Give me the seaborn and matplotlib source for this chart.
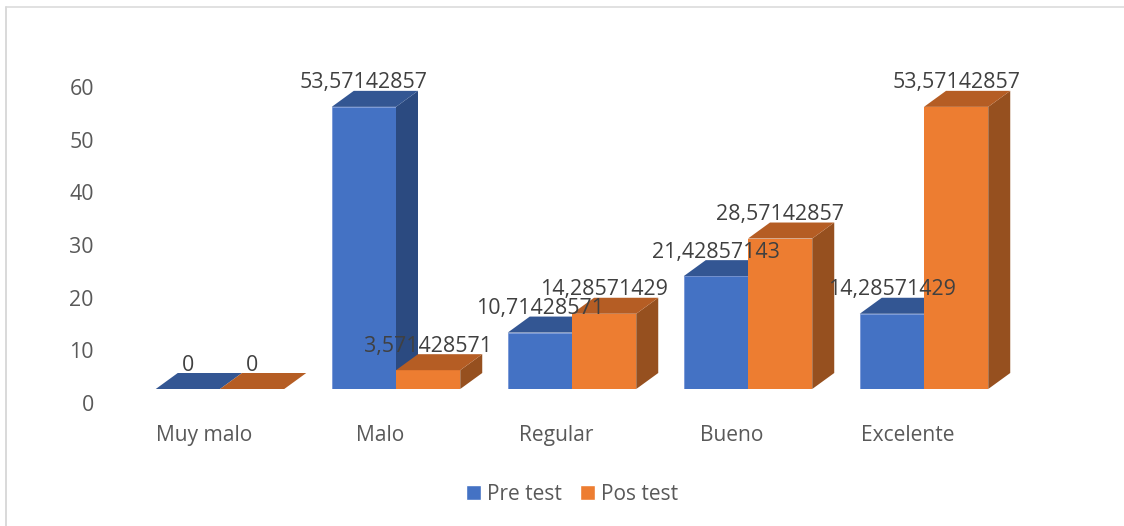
import matplotlib
matplotlib.use("Agg")
import matplotlib.pyplot as plt
import matplotlib.transforms as mtrans
from matplotlib.lines import Line2D
from matplotlib.patches import Polygon
import pandas as pd
import seaborn as sns

categories = ["Muy malo", "Malo", "Regular", "Bueno", "Excelente"]
pre_test = [0, 53.57142857, 10.71428571, 21.42857143, 14.28571429]
pos_test = [0, 3.571428571, 14.28571429, 28.57142857, 53.57142857]
series_names = ["Pre test", "Pos test"]
y_ticks = [0, 10, 20, 30, 40, 50, 60]

front_colors = ["#4472C4", "#ED7D31"]
top_colors = ["#335693", "#B55D24"]
side_colors = ["#2B4A80", "#96501F"]

W, H = 1124, 526
sns.set_style("white")
plt.rcParams["font.family"] = ["Open Sans", "DejaVu Sans"]

df = pd.DataFrame({"cat": categories * 2,
                   "value": pre_test + pos_test,
                   "serie": [series_names[0]] * 5 + [series_names[1]] * 5})

fig = plt.figure(figsize=(W / 100, H / 100), dpi=100)
ax = fig.add_axes([132 / W, (H - 389) / H, 880 / W, 316 / H])

sns.barplot(data=df, x="cat", y="value", hue="serie", order=categories,
            hue_order=series_names, palette=front_colors, saturation=1,
            width=0.73, gap=0, errorbar=None, ax=ax)
ax.set_xlim(-0.5, 4.5)
ax.set_ylim(0, 60)

# fake 3d depth, measured in pixels and turned into data units
depth_x = 22 / (880 / 5)
depth_y = 16 / (316 / 60)

for i, container in enumerate(ax.containers):
    values = [pre_test, pos_test][i]
    for bar, v in zip(container, values):
        x0, w, h = bar.get_x(), bar.get_width(), bar.get_height()
        x1 = x0 + w
        bar.set_zorder(2 + i)
        bar.set_linewidth(0.7 if (i == 0 and h > 0) else 0)
        bar.set_edgecolor("#7C9BD8")
        top = [(x0, h), (x1, h), (x1 + depth_x, h + depth_y), (x0 + depth_x, h + depth_y)]
        side = [(x1, 0), (x1 + depth_x, depth_y), (x1 + depth_x, h + depth_y), (x1, h)]
        ax.add_patch(Polygon(side, closed=True, fc=side_colors[i], lw=0, zorder=2.2 + i, clip_on=False))
        ax.add_patch(Polygon(top, closed=True, fc=top_colors[i], lw=0, zorder=2.4 + i, clip_on=False))
        ax.annotate(f"{v:.10g}".replace(".", ","), (x0 + w / 2, h), xytext=(0, 17.2),
                    textcoords="offset points", ha="center", va="center",
                    fontsize=15.4, color="#404040", zorder=6, annotation_clip=False)

sns.despine(ax=ax, left=True, bottom=True)
ax.set_xlabel("")
ax.set_ylabel("")
ax.set_yticks(y_ticks)
ax.tick_params(axis="y", length=0, pad=27.5, labelsize=15.4, labelcolor="#595959")
ax.tick_params(axis="x", length=0, pad=26, labelsize=15.1, labelcolor="#595959")

# axis labels sit apart from the front plane of the bars
for label in ax.get_yticklabels():
    label.set_transform(label.get_transform() + mtrans.ScaledTranslation(0, -14 / 100, fig.dpi_scale_trans))
for label in ax.get_xticklabels():
    label.set_transform(label.get_transform() + mtrans.ScaledTranslation(-16 / 100, 0, fig.dpi_scale_trans))

sns.move_legend(ax, "center", bbox_to_anchor=(572 / W, (H - 494) / H),
                bbox_transform=fig.transFigure, ncol=2, title=None, frameon=False,
                fontsize=15, labelcolor="#595959", handlelength=0.72, handleheight=0.72,
                handletextpad=0.3, columnspacing=0.85, borderpad=0, borderaxespad=0)

# chart frame is cut off by the crop: only top and left edges show
fig.add_artist(Line2D([6 / W, 1], [(H - 7) / H, (H - 7) / H], color="#D9D9D9", lw=1.1))
fig.add_artist(Line2D([6 / W, 6 / W], [0, (H - 7) / H], color="#D9D9D9", lw=1.4))

fig.savefig("out.png", dpi=100)
